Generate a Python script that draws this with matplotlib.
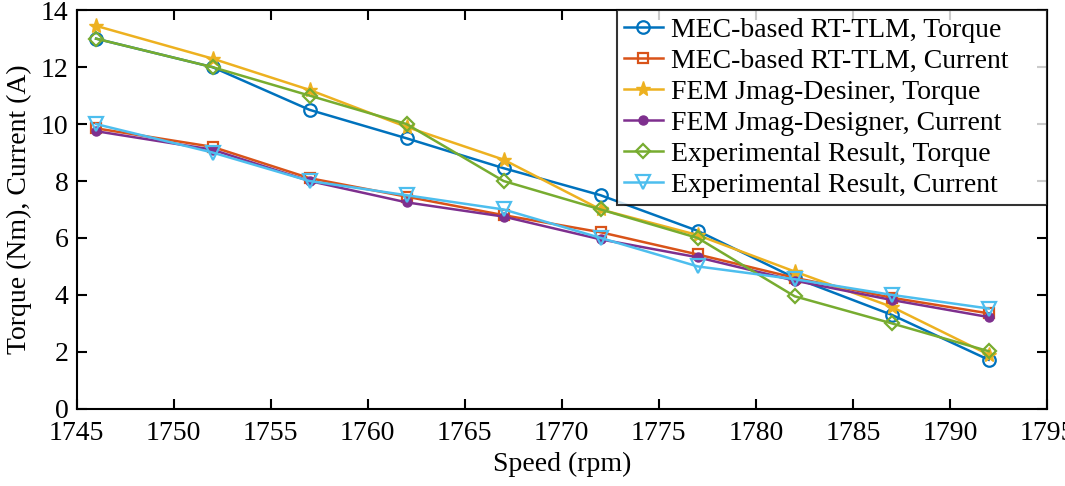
import matplotlib
matplotlib.use('Agg')
import matplotlib.pyplot as plt

plt.rcParams['font.family'] = ['Liberation Serif', 'DejaVu Serif']
plt.rcParams['mathtext.fontset'] = 'stix'

speed = [1746, 1752, 1757, 1762, 1767, 1772, 1777, 1782, 1787, 1792]
mec_torque = [13.0, 12.0, 10.5, 9.5, 8.45, 7.5, 6.25, 4.6, 3.3, 1.72]
mec_current = [9.85, 9.2, 8.1, 7.45, 6.8, 6.2, 5.42, 4.6, 3.9, 3.35]
fem_torque = [13.45, 12.3, 11.2, 9.9, 8.75, 7.0, 6.1, 4.82, 3.58, 1.9]
fem_current = [9.75, 9.1, 8.0, 7.25, 6.75, 5.95, 5.32, 4.5, 3.82, 3.22]
exp_torque = [13.0, 12.0, 11.0, 10.0, 8.0, 7.0, 6.0, 3.95, 3.0, 2.02]
exp_current = [10.0, 9.0, 8.0, 7.5, 7.0, 6.0, 5.0, 4.55, 4.0, 3.52]

labels = ['MEC-based RT-TLM, Torque', 'MEC-based RT-TLM, Current',
          'FEM Jmag-Desiner, Torque', 'FEM Jmag-Designer, Current',
          'Experimental Result, Torque', 'Experimental Result, Current']
colors = ['#0072BD', '#D95319', '#EDB120', '#7E2F8E', '#77AC30', '#4DBEEE']

fig = plt.figure(figsize=(10.65, 4.86), dpi=100)
ax = fig.add_axes([0.072, 0.159, 0.911, 0.820])

lw = 1.8
ms = 9
ax.plot(speed, mec_torque, color=colors[0], lw=lw, marker='o', ms=ms, mfc='none', mew=1.6, label=labels[0])
ax.plot(speed, mec_current, color=colors[1], lw=lw, marker='s', ms=ms - 1.5, mfc='none', mew=1.6, label=labels[1])
ax.plot(speed, fem_torque, color=colors[2], lw=lw, marker='*', ms=ms + 2, mfc=colors[2], mew=1.0, label=labels[2])
ax.plot(speed, fem_current, color=colors[3], lw=lw, marker='o', ms=ms - 2.5, mfc=colors[3], mew=1.0, label=labels[3])
ax.plot(speed, exp_torque, color=colors[4], lw=lw, marker='D', ms=ms - 1.5, mfc='none', mew=1.6, label=labels[4])
ax.plot(speed, exp_current, color=colors[5], lw=lw, marker='v', ms=ms + 1, mfc='none', mew=1.6, label=labels[5])

ax.set_xlim(1745, 1795)
ax.set_ylim(0, 14)
ax.set_xticks(range(1745, 1796, 5))
ax.set_yticks(range(0, 15, 2))
ax.tick_params(direction='in', top=True, right=True, labelsize=20, length=7, width=1.5)
ax.tick_params(axis='x', pad=9)
ax.tick_params(axis='y', pad=6)
for s in ax.spines.values():
    s.set_linewidth(1.5)
ax.set_xlabel('Speed (rpm)', fontsize=20, labelpad=4)
ax.set_ylabel('Torque (Nm), Current (A)', fontsize=20, labelpad=6)

# legend box fills the upper right corner, text left-aligned like MATLAB
leg = ax.legend(loc='upper right', bbox_to_anchor=(0.557, 0, 0.443, 1), mode='expand',
                fontsize=20, frameon=True, fancybox=False,
                edgecolor='black', borderaxespad=0, handlelength=1.4,
                handletextpad=0.3, labelspacing=0.2, borderpad=0.25)
leg.get_frame().set_linewidth(1.5)

fig.savefig('out.png', dpi=100)
